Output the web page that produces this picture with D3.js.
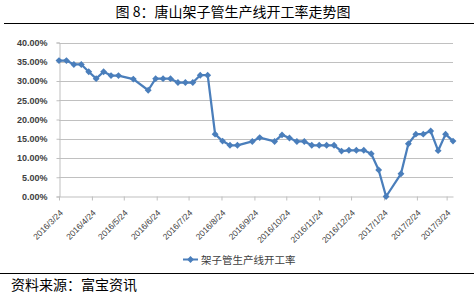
<!DOCTYPE html>
<html>
<head>
<meta charset="utf-8">
<script src="https://cdn.jsdelivr.net/npm/d3@7"></script>
<style>
body { margin: 0; background: #fff; }
svg { display: block; font-family: "Liberation Sans", Arial, sans-serif; }
.cjk { font-family: "Noto Sans CJK SC", sans-serif; }
.grid line { stroke: #c0c0c0; stroke-width: 1.2; }
.axis path, .axis line { stroke: #bfbfbf; }
.axis text { fill: #404040; }
</style>
</head>
<body>
<div id="chart"></div>
<script>
var weeks = ["2016-03-24","2016-03-31","2016-04-07","2016-04-14","2016-04-21","2016-04-28",
	"2016-05-05","2016-05-12","2016-05-19","2016-06-02","2016-06-16","2016-06-23","2016-06-30",
	"2016-07-07","2016-07-14","2016-07-21","2016-07-28","2016-08-04","2016-08-11","2016-08-18",
	"2016-08-25","2016-09-01","2016-09-08","2016-09-22","2016-09-29","2016-10-13","2016-10-20",
	"2016-10-27","2016-11-03","2016-11-10","2016-11-17","2016-11-24","2016-12-01","2016-12-08",
	"2016-12-15","2016-12-22","2016-12-29","2017-01-05","2017-01-12","2017-01-19","2017-01-26",
	"2017-02-09","2017-02-16","2017-02-23","2017-03-02","2017-03-09","2017-03-16","2017-03-23",
	"2017-03-30"];
var rates = [35.3, 35.3, 34.3, 34.3, 32.4, 30.6,
	32.4, 31.4, 31.4, 30.5, 27.6, 30.6, 30.6,
	30.6, 29.6, 29.6, 29.6, 31.5, 31.5, 16.2,
	14.4, 13.3, 13.3, 14.3, 15.3, 14.3, 16.0,
	15.2, 14.3, 14.3, 13.3, 13.3, 13.3, 13.3,
	11.8, 12.0, 12.0, 12.0, 11.1, 6.9, 0,
	5.9, 13.7, 16.2, 16.2, 17.0, 11.9, 16.2,
	14.4];
var xTicks = ["2016/3/24","2016/4/24","2016/5/24","2016/6/24","2016/7/24","2016/8/24",
	"2016/9/24","2016/10/24","2016/11/24","2016/12/24","2017/1/24","2017/2/24","2017/3/24"];
var yTicks = [0, 0.05, 0.10, 0.15, 0.20, 0.25, 0.30, 0.35, 0.40];

var title = "图 8：唐山架子管生产线开工率走势图";
var seriesName = "架子管生产线开工率";
var source = "资料来源：富宝资讯";

var PCTFMT = d3.format(".2%");
var parseDate = d3.timeParse("%Y-%m-%d");
var parseTick = d3.timeParse("%Y/%m/%d");
var COLOR = "#4a7ebb";

var width = 474, height = 295;

var points = weeks.map(function(d, i) { return {date: parseDate(d), value: rates[i] / 100}; });

var xScale = d3.scaleTime()
	.domain([parseDate("2016-03-24"), parseDate("2017-03-30")])
	.range([59, 453]);
var yScale = d3.scaleLinear().domain([0, 0.4]).range([196.5, 42.5]);

var svg = d3.select("#chart")
	.append("svg")
	.attr("width", width)
	.attr("height", height);

// title + rule under it
svg.append("text")
	.attr("class", "cjk")
	.attr("x", 233)
	.attr("y", 17)
	.attr("text-anchor", "middle")
	.style("font-size", "14px")
	.text(title);

svg.append("line")
	.attr("x1", 4).attr("x2", 474)
	.attr("y1", 23.5).attr("y2", 23.5)
	.attr("stroke", "#000").attr("stroke-width", 1.2);

// gridlines
svg.append("g")
	.attr("class", "grid")
	.selectAll("line")
	.data(yTicks.slice(1))
	.enter()
	.append("line")
	.attr("x1", xScale.range()[0])
	.attr("x2", xScale.range()[1])
	.attr("y1", function(d) { return Math.round(yScale(d)) + 0.5; })
	.attr("y2", function(d) { return Math.round(yScale(d)) + 0.5; });

// y axis
var yAxis = svg.append("g")
	.attr("class", "axis")
	.attr("transform", "translate(59.5,0)")
	.call(d3.axisLeft(yScale).tickValues(yTicks).tickFormat(PCTFMT).tickSize(3).tickPadding(9));
yAxis.selectAll("text")
	.style("font-size", "9px")
	.style("font-weight", "bold");

// x axis
var xAxis = svg.append("g")
	.attr("class", "axis")
	.attr("transform", "translate(0,196.5)")
	.call(d3.axisBottom(xScale).tickValues(xTicks.map(parseTick)).tickSize(4).tickSizeOuter(0)
		.tickFormat(function(d, i) { return xTicks[i]; }));
xAxis.select(".domain").attr("stroke-width", 1.2);
xAxis.selectAll("text")
	.style("font-size", "8.5px")
	.attr("fill", "#222")
	.attr("text-anchor", "end")
	.attr("dy", null)
	.attr("y", 0)
	.attr("transform", "translate(4,17) rotate(-45)");

// series
var line = d3.line()
	.x(function(d) { return xScale(d.date); })
	.y(function(d) { return yScale(d.value); });

svg.append("path")
	.datum(points)
	.attr("fill", "none")
	.attr("stroke", COLOR)
	.attr("stroke-width", 2.25)
	.attr("stroke-linejoin", "round")
	.attr("d", line);

var diamond = d3.symbol().type(d3.symbolDiamond2).size(30);

svg.selectAll(".marker")
	.data(points)
	.enter()
	.append("path")
	.attr("class", "marker")
	.attr("d", diamond)
	.attr("fill", COLOR)
	.attr("transform", function(d) { return "translate(" + xScale(d.date) + "," + yScale(d.value) + ")"; });

// legend
svg.append("line")
	.attr("x1", 183).attr("x2", 198)
	.attr("y1", 259.5).attr("y2", 259.5)
	.attr("stroke", COLOR).attr("stroke-width", 2);
svg.append("path")
	.attr("d", diamond)
	.attr("fill", COLOR)
	.attr("transform", "translate(190.5,259.5)");
svg.append("text")
	.attr("class", "cjk")
	.attr("x", 201)
	.attr("y", 263.5)
	.attr("fill", "#404040")
	.style("font-size", "10.5px")
	.text(seriesName);

// source
svg.append("line")
	.attr("x1", 0).attr("x2", 474)
	.attr("y1", 273.5).attr("y2", 273.5)
	.attr("stroke", "#000").attr("stroke-width", 1.2);

svg.append("text")
	.attr("class", "cjk")
	.attr("x", 11)
	.attr("y", 290)
	.style("font-size", "14px")
	.text(source);
</script>
</body>
</html>
